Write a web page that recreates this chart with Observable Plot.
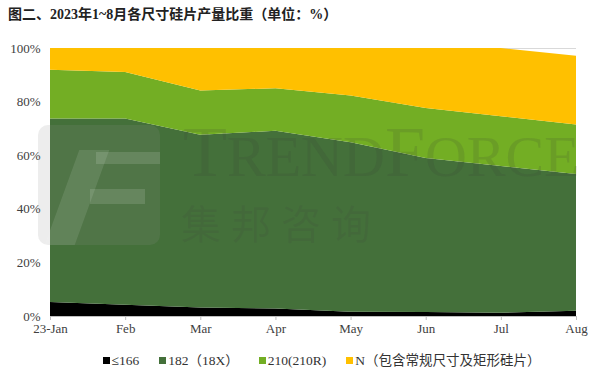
<!DOCTYPE html>
<html>
<head>
<meta charset="utf-8">
<script src="https://cdn.jsdelivr.net/npm/d3@7"></script>
<script src="https://cdn.jsdelivr.net/npm/@observablehq/plot@0.6"></script>
<style>
  html, body { margin: 0; padding: 0; background: #fff; }
  #wrap { position: relative; width: 599px; height: 378px; overflow: hidden; font-family: "Liberation Serif", "Noto Sans CJK SC", serif; }
  #title { position: absolute; left: 8px; top: 3px; font-size: 14px; font-weight: bold; color: #222; font-family: "Liberation Serif", "Noto Sans CJK SC", serif; white-space: nowrap; }
  #chart { position: absolute; left: 0; top: 38px; }
  #legend { position: absolute; left: 22px; width: 599px; top: 349px; text-align: center; font-size: 13.5px; color: #333; white-space: nowrap; }
  #legend span.item { margin: 0 10px; }
  #legend i { display: inline-block; width: 7px; height: 7px; margin-right: 2px; vertical-align: 1px; }
  .wm { position: absolute; pointer-events: none; white-space: nowrap; line-height: 1; }
</style>
</head>
<body>
<div id="wrap">
  <div id="title">图二、2023年1~8月各尺寸硅片产量比重（单位：%）</div>
  <div id="chart"></div>
  <div class="wm" style="left:38px;top:125px;width:122px;height:120px;border-radius:10px;background:rgba(140,140,140,0.16);"></div>
  <div class="wm" style="left:62px;top:150px;width:30px;height:95px;transform:skewX(-20deg);background:rgba(255,255,255,0.10);"></div>
  <div class="wm" style="left:96px;top:152px;width:64px;height:12px;background:rgba(255,255,255,0.13);"></div>
  <div class="wm" style="left:90px;top:189px;width:55px;height:15px;background:rgba(255,255,255,0.13);"></div>
  <div class="wm" style="left:183px;top:116px;height:72px;font-family:'Liberation Serif',serif;font-size:72px;color:rgba(60,60,60,0.14);">T<span style="font-size:58px">REND</span>F<span style="font-size:58px">ORCE</span></div>
  <div class="wm" style="left:181px;top:202px;height:40px;font-family:'Noto Sans CJK SC',sans-serif;font-size:40px;letter-spacing:10px;color:rgba(60,60,60,0.13);">集邦咨询</div>
  <div id="legend"></div>
</div>
<script>
const months = ["23-Jan", "Feb", "Mar", "Apr", "May", "Jun", "Jul", "Aug"];
const seriesNames = ["≤166", "182（18X）", "210(210R)", "N（包含常规尺寸及矩形硅片）"];
const colors = ["#000000", "#44703a", "#73ae24", "#ffc000"];
const s166 = [5.2, 4.2, 3.2, 2.8, 1.6, 1.5, 1.2, 2.0];
const s182 = [68.5, 69.5, 64.4, 66.3, 63.2, 57.5, 54.8, 51.0];
const s210 = [18.2, 17.3, 16.5, 15.9, 17.5, 18.6, 18.5, 18.5];
const sN = [8.1, 9.0, 15.9, 15.0, 17.7, 22.4, 25.5, 25.6];
const yTicks = [0, 20, 40, 60, 80, 100];

const seriesValues = [s166, s182, s210, sN];
const data = [];
seriesNames.forEach((name, si) => {
  months.forEach((m, mi) => data.push({ x: mi, month: m, series: name, value: seriesValues[si][mi] }));
});

const chart = Plot.plot({
  width: 599,
  height: 308,
  marginLeft: 50,
  marginRight: 23,
  marginTop: 10,
  marginBottom: 30,
  style: { fontFamily: "'Liberation Serif', serif", fontSize: "13px", color: "#404040", background: "transparent" },
  x: { type: "linear", domain: [0, months.length - 1], ticks: months.map((_, i) => i), tickFormat: i => months[i], label: null },
  y: { domain: [0, 100], ticks: yTicks, tickFormat: d => d + "%", label: null },
  color: { domain: seriesNames, range: colors },
  marks: [
    Plot.gridY(yTicks, { stroke: "#d9d9d9", strokeOpacity: 1 }),
    Plot.areaY(data, { x: "x", y: "value", z: "series", fill: "series", order: seriesNames, curve: "linear" }),
    Plot.axisY({ ticks: yTicks, tickFormat: d => d + "%", tickSize: 0, tickPadding: 10, fontSize: 13 }),
    Plot.axisX({ ticks: months.map((_, i) => i), tickFormat: i => months[i], tickSize: 4, tickPadding: 3, stroke: "#bfbfbf", fontSize: 13 }),
    Plot.ruleY([0], { stroke: "#bfbfbf" })
  ]
});
document.getElementById("chart").appendChild(chart);

const legend = document.getElementById("legend");
seriesNames.forEach((name, i) => {
  const s = document.createElement("span");
  s.className = "item";
  const sw = document.createElement("i");
  sw.style.background = colors[i];
  s.appendChild(sw);
  s.appendChild(document.createTextNode(name));
  legend.appendChild(s);
});
</script>
</body>
</html>
